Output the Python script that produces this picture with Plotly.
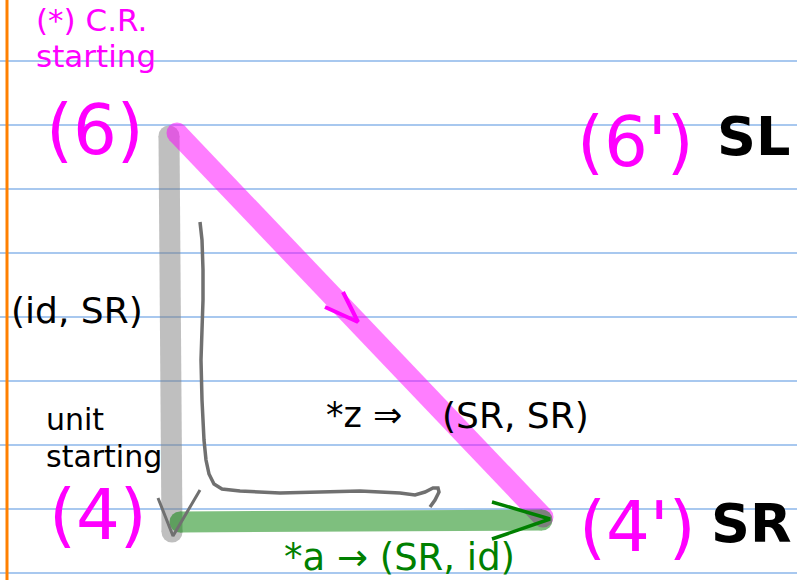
import plotly.graph_objects as go

W, H = 797, 580

# ruled paper
rule_y = [61, 125, 189, 253, 317, 381, 445, 509, 573]
margin_x = [7, 7]
margin_y = [0, 580]

# thick strokes of the triangle
gray_x = [169, 172]
gray_y = [136, 532]
pink_x = [177, 543]
pink_y = [133, 517]
green_x = [180, 542]
green_y = [522, 520]

# arrow heads
gray_head_x = [158, 173, 200]
gray_head_y = [498, 536, 490]
green_head_x = [492, 550, 492]
green_head_y = [502, 519, 539]
pink_head_x = [325, 358, 343]
pink_head_y = [307, 322, 292]

# freehand gray arrow
hand_x = [200, 202, 203, 203, 202, 201, 202, 204, 206, 209, 214, 222, 240, 280, 320, 360, 400, 415, 425, 433, 438, 439, 435, 430]
hand_y = [222, 240, 270, 300, 330, 360, 400, 440, 460, 474, 484, 489, 491, 493, 492, 491, 493, 495, 492, 488, 488, 492, 500, 507]

# labels: text, x, y, size, colour, bold
labels = [
    ("(*) C.R.", 34, 20, 31, "#ff00ff", False),
    ("starting", 34, 56, 31, "#ff00ff", False),
    ("(6)", 44, 130, 69, "#ff00ff", False),
    ("(6')", 575, 142, 69, "#ff00ff", False),
    ("SL", 715, 136, 54, "black", True),
    ("(id, SR)", 9, 310, 36, "black", False),
    ("unit", 44, 419, 30, "black", False),
    ("starting", 44, 456, 30, "black", False),
    ("*z ⇒", 324, 415, 35, "black", False),
    ("(SR, SR)", 440, 415, 36, "black", False),
    ("(4)", 47, 515, 69, "#ff00ff", False),
    ("(4')", 577, 527, 69, "#ff00ff", False),
    ("SR", 709, 523, 54, "black", True),
    ("*a → (SR, id)", 282, 557, 37, "green", False),
]

fig = go.Figure()

for y in rule_y:
    fig.add_trace(go.Scatter(x=[0, W], y=[y, y], mode="lines",
                             line=dict(color="#5392e0", width=1.2)))
fig.add_trace(go.Scatter(x=margin_x, y=margin_y, mode="lines",
                         line=dict(color="#ff8000", width=3)))


def stroke(xs, ys, color, width):
    # markers at the ends fake round caps, trace opacity keeps overlap flat
    fig.add_trace(go.Scatter(x=xs, y=ys, mode="lines+markers", opacity=0.5,
                             line=dict(color=color, width=width),
                             marker=dict(color=color, size=width, line=dict(width=0))))


stroke(gray_x, gray_y, "#808080", 21)
stroke(pink_x, pink_y, "#ff00ff", 21)
stroke(green_x, green_y, "#008000", 21)

fig.add_trace(go.Scatter(x=hand_x, y=hand_y, mode="lines", line=dict(color="#707070", width=3.5)))
fig.add_trace(go.Scatter(x=gray_head_x, y=gray_head_y, mode="lines", line=dict(color="#707070", width=3)))
fig.add_trace(go.Scatter(x=green_head_x, y=green_head_y, mode="lines", line=dict(color="#008000", width=3.5)))
fig.add_trace(go.Scatter(x=pink_head_x, y=pink_head_y, mode="lines", line=dict(color="#ff00ff", width=4)))

for text, x, y, size, color, bold in labels:
    fig.add_annotation(x=x, y=y, text=f"<b>{text}</b>" if bold else text,
                       xanchor="left", yanchor="middle", showarrow=False,
                       font=dict(family="DejaVu Sans", size=size, color=color))

fig.update_xaxes(range=[0, W], visible=False, fixedrange=True)
fig.update_yaxes(range=[H, 0], visible=False, fixedrange=True)
fig.update_layout(width=W, height=H, margin=dict(l=0, r=0, t=0, b=0),
                  showlegend=False, plot_bgcolor="white", paper_bgcolor="white")

fig.write_html("out.html", config={"displayModeBar": False},
               post_script="document.body.style.margin='0';document.body.style.overflow='hidden';")
